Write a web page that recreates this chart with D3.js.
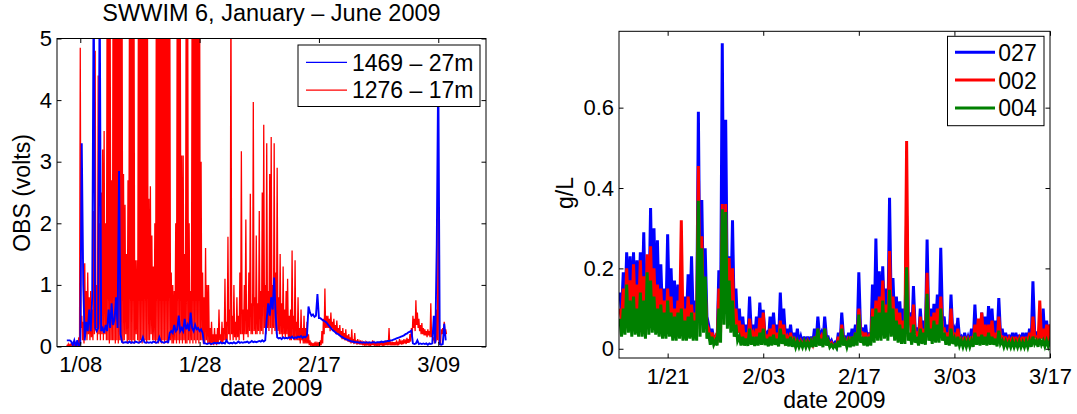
<!DOCTYPE html>
<html>
<head>
<meta charset="utf-8">
<script src="https://cdn.jsdelivr.net/npm/d3@7"></script>
<style>
  body { margin: 0; background: #fff; }
  svg { display: block; font-family: "Liberation Sans", Arial, Helvetica, sans-serif; }
</style>
</head>
<body>
<svg id="chart" width="1077" height="414"></svg>
<script>
// ---------- Left panel: OBS voltage, SWWIM 6 (6-hourly windows) ----------
const obsStart = "2009-01-05 18:00";
const obsStepHours = 6;

// sensor 1276, 17 m (red): max / min reading in each 6-hour window
const obs1276Hi = [
  0.03, 0.04, 0.03, 0.06, 0.04, 0.03, 0.05, 0.04, 0.15, 4.85,
  0.5, 0.4, 1.35, 0.9, 1.2, 0.8, 0.9, 0.6, 2.2, 4.8,
  1.0, 4.4, 2.0, 2.5, 3.2, 3.5, 2.0, 6, 6, 6,
  2.7, 6, 6, 6, 6, 6, 6, 6, 2.8, 2.3,
  1.5, 2.7, 6, 6, 6, 6, 1.4, 1.4, 6, 6,
  6, 6, 6, 6, 6, 2.4, 2.6, 1.8, 1.3, 2.0,
  6, 6, 6, 6, 6, 6, 6, 6, 6, 6,
  1.2, 1.0, 0.9, 2.0, 6, 6, 6, 3.1, 3.1, 1.5,
  6, 6, 2.0, 0.9, 6, 6, 6, 6, 6, 6,
  3.0, 1.2, 0.8, 1.6, 1.0, 1.0, 0.3, 0.4, 0.2, 0.3,
  0.2, 0.3, 0.6, 0.2, 0.4, 0.3, 1.1, 0.4, 1.78, 0.6,
  6, 0.5, 1.0, 0.4, 0.8, 0.5, 1.2, 3.17, 0.6, 1.0,
  2.06, 0.6, 1.2, 2.48, 0.7, 3.97, 0.8, 1.8, 0.7, 2.2,
  0.9, 2.5, 3.6, 1.0, 3.3, 0.9, 2.8, 3.4, 1.0, 3.3,
  1.2, 2.9, 0.8, 1.5, 0.7, 1.3, 0.6, 0.9, 1.1, 0.5,
  0.6, 1.56, 0.5, 1.4, 0.4, 0.8, 0.3, 0.6, 0.3, 0.5,
  0.3, 0.4, 0.2, 0.1, 0.05, 0.06, 0.05, 0.08, 0.05, 0.07,
  0.1, 0.25, 0.45, 0.94, 0.5, 0.5, 0.45, 0.55, 0.4, 0.45,
  0.35, 0.42, 0.3, 0.35, 0.25, 0.3, 0.22, 0.28, 0.18, 0.2,
  0.15, 0.28, 0.12, 0.22, 0.1, 0.12, 0.08, 0.1, 0.07, 0.08,
  0.07, 0.06, 0.08, 0.05, 0.07, 0.1, 0.06, 0.07, 0.05, 0.07,
  0.06, 0.08, 0.05, 0.07, 0.1, 0.07, 0.3, 0.06, 0.08, 0.07,
  0.07, 0.1, 0.06, 0.12, 0.08, 0.1, 0.12, 0.09, 0.14, 0.12,
  0.2, 0.3, 0.5, 0.45, 0.75, 0.55, 0.45, 0.35, 0.38, 0.3,
  0.28, 0.25, 0.28, 0.25, 0.7, 0.25, 0.15, 0.2, 0.6, 3.0,
  0.1, 0.28, 0.3, 0.4, 0.28
];
const obs1276Lo = [
  0.0, 0.01, 0.0, 0.02, 0.01, 0.0, 0.01, 0.01, 0.02, 0.3,
  0.1, 0.05, 0.2, 0.1, 0.2, 0.1, 0.15, 0.1, 0.2, 0.3,
  0.1, 0.2, 0.1, 0.2, 0.1, 0.2, 0.1, 0.1, 0.05, 0.1,
  0.1, 0.1, 0.05, 0.1, 0.05, 0.1, 0.1, 0.05, 0.1, 0.2,
  0.05, 0.1, 0.1, 0.05, 0.1, 0.05, 0.2, 0.1, 0.05, 0.1,
  0.05, 0.1, 0.1, 0.05, 0.1, 0.1, 0.2, 0.1, 0.1, 0.05,
  0.1, 0.05, 0.1, 0.05, 0.1, 0.05, 0.1, 0.05, 0.1, 0.1,
  0.05, 0.05, 0.1, 0.05, 0.1, 0.05, 0.1, 0.05, 0.1, 0.05,
  0.05, 0.1, 0.05, 0.1, 0.05, 0.1, 0.05, 0.1, 0.05, 0.1,
  0.1, 0.05, 0.05, 0.1, 0.05, 0.05, 0.02, 0.05, 0.02, 0.05,
  0.02, 0.05, 0.1, 0.05, 0.05, 0.1, 0.1, 0.1, 0.2, 0.1,
  0.2, 0.1, 0.15, 0.1, 0.15, 0.1, 0.2, 0.2, 0.1, 0.2,
  0.2, 0.15, 0.25, 0.2, 0.2, 0.25, 0.2, 0.2, 0.25, 0.2,
  0.25, 0.2, 0.3, 0.2, 0.3, 0.25, 0.3, 0.2, 0.3, 0.25,
  0.2, 0.25, 0.2, 0.2, 0.15, 0.2, 0.15, 0.2, 0.15, 0.1,
  0.1, 0.15, 0.1, 0.1, 0.1, 0.1, 0.05, 0.1, 0.05, 0.05,
  0.05, 0.05, 0.02, 0.02, 0.01, 0.01, 0.01, 0.01, 0.01, 0.01,
  0.02, 0.05, 0.2, 0.3, 0.3, 0.3, 0.25, 0.3, 0.25, 0.25,
  0.2, 0.22, 0.18, 0.15, 0.12, 0.12, 0.1, 0.1, 0.08, 0.07,
  0.05, 0.06, 0.04, 0.05, 0.03, 0.04, 0.03, 0.03, 0.02, 0.03,
  0.02, 0.02, 0.02, 0.01, 0.02, 0.02, 0.01, 0.02, 0.01, 0.02,
  0.02, 0.02, 0.01, 0.02, 0.02, 0.02, 0.02, 0.02, 0.02, 0.02,
  0.02, 0.03, 0.02, 0.04, 0.03, 0.04, 0.05, 0.04, 0.06, 0.06,
  0.08, 0.15, 0.3, 0.25, 0.35, 0.3, 0.25, 0.2, 0.2, 0.18,
  0.18, 0.15, 0.18, 0.15, 0.15, 0.1, 0.05, 0.08, 0.1, 0.05,
  0.02, 0.2, 0.2, 0.22, 0.2
];

// sensor 1469, 27 m (blue)
const obs1469 = [
  0.1, 0.1, 0.1, 0.08, 0.02, 0.1, 0.0, 0.1, 0.0, 0.05,
  3.3, 1.0, 0.1, 0.4, 0.25, 0.6, 0.25, 0.8, 6, 0.3,
  0.25, 0.3, 6, 0.25, 0.3, 0.22, 0.35, 0.25, 0.6, 0.3,
  0.7, 0.35, 0.45, 0.8, 0.3, 2.85, 0.2, 0.07, 0.06, 0.07,
  0.07, 0.06, 0.08, 0.06, 0.07, 0.06, 0.08, 0.07, 0.06, 0.07,
  0.08, 0.15, 0.07, 0.06, 0.07, 0.06, 0.07, 0.06, 0.08, 0.07,
  0.06, 0.07, 0.15, 0.08, 0.07, 0.06, 0.07, 0.08, 0.07, 0.22,
  0.25, 0.22, 0.35, 0.25, 0.28, 0.5, 0.25, 0.3, 0.25, 0.45,
  0.28, 0.35, 0.25, 0.55, 0.3, 0.25, 0.35, 0.28, 0.3, 0.25,
  0.28, 0.22, 0.05, 0.05, 0.04, 0.05, 0.05, 0.04, 0.05, 0.06,
  0.05, 0.06, 0.05, 0.07, 0.05, 0.06, 0.05, 0.1, 0.06, 0.05,
  0.06, 0.05, 0.07, 0.05, 0.06, 0.08, 0.06, 0.07, 0.06, 0.07,
  0.07, 0.08, 0.06, 0.07, 0.09, 0.07, 0.08, 0.07, 0.08, 0.09,
  0.08, 0.1, 0.08, 0.1, 0.45, 0.7, 0.5, 0.8, 0.6, 1.12,
  0.5, 0.15, 0.13, 0.14, 0.12, 0.15, 0.13, 0.14, 0.13, 0.15,
  0.14, 0.16, 0.13, 0.15, 0.14, 0.16, 0.15, 0.17, 0.14, 0.16,
  0.15, 0.18, 0.65, 0.55, 0.5, 0.52, 0.48, 0.5, 0.85, 0.46,
  0.46, 0.44, 0.42, 0.41, 0.39, 0.36, 0.33, 0.3, 0.27, 0.25,
  0.23, 0.21, 0.2, 0.18, 0.16, 0.15, 0.13, 0.12, 0.11, 0.1,
  0.09, 0.08, 0.08, 0.07, 0.07, 0.07, 0.06, 0.07, 0.06, 0.07,
  0.06, 0.07, 0.06, 0.07, 0.06, 0.07, 0.07, 0.06, 0.07, 0.07,
  0.07, 0.08, 0.07, 0.08, 0.08, 0.09, 0.09, 0.1, 0.1, 0.11,
  0.12, 0.13, 0.14, 0.15, 0.16, 0.17, 0.18, 0.2, 0.21, 0.23,
  0.24, 0.26, 0.05, 0.04, 0.05, 0.1, 0.04, 0.05, 0.04, 0.05,
  0.04, 0.05, 0.03, 0.05, 0.04, 0.05, 0.5, 0.05, 1.66, 4.6,
  0.04, 0.03, 0.04, 0.37, 0.1
];

const obsTickDates = ["2009-01-08 00:00", "2009-01-28 00:00", "2009-02-17 00:00", "2009-03-09 00:00"];
const obsTickLabels = ["1/08", "1/28", "2/17", "3/09"];
const obsYTicks = [0, 1, 2, 3, 4, 5];
const obsLegend = ["1469 \u2013 27m", "1276 \u2013 17m"];

// ---------- Right panel: sediment concentration (half-day high / low readings) ----------
const sedStart = "2009-01-13 12:00";
const sedStepHours = 12;

const sed027Hi = [
  0.14, 0.19, 0.24, 0.23, 0.24, 0.22, 0.24, 0.29, 0.2, 0.35,
  0.3, 0.27, 0.21, 0.15, 0.285, 0.2, 0.17, 0.16, 0.12, 0.13,
  0.185, 0.23, 0.12, 0.59, 0.37, 0.25, 0.06, 0.05, 0.03, 0.195,
  0.76, 0.57, 0.23, 0.32, 0.15, 0.1, 0.08, 0.06, 0.13, 0.06,
  0.08, 0.115, 0.097, 0.04, 0.08, 0.09, 0.06, 0.14, 0.1, 0.05,
  0.06, 0.04, 0.05, 0.03, 0.03, 0.03, 0.03, 0.05, 0.08, 0.04,
  0.08, 0.03, 0.02, 0.015, 0.04, 0.09, 0.03, 0.04, 0.05, 0.06,
  0.19, 0.05, 0.06, 0.04, 0.16, 0.274, 0.193, 0.205, 0.15, 0.376,
  0.176, 0.13, 0.118, 0.1, 0.33, 0.09, 0.156, 0.05, 0.1, 0.07,
  0.272, 0.1, 0.112, 0.135, 0.251, 0.08, 0.06, 0.135, 0.05, 0.077,
  0.03, 0.04, 0.03, 0.05, 0.11, 0.07, 0.09, 0.08, 0.106, 0.1,
  0.07, 0.126, 0.05, 0.04, 0.035, 0.04, 0.04, 0.035, 0.04, 0.04,
  0.05, 0.168, 0.04, 0.06, 0.1, 0.07, 0.06
];
const sed027Lo = [
  0.09, 0.1, 0.12, 0.1, 0.11, 0.1, 0.1, 0.09, 0.1, 0.12,
  0.1, 0.09, 0.08, 0.08, 0.09, 0.07, 0.07, 0.08, 0.07, 0.07,
  0.08, 0.07, 0.06, 0.1, 0.12, 0.08, 0.03, 0.025, 0.02, 0.06,
  0.15, 0.12, 0.1, 0.08, 0.05, 0.03, 0.03, 0.025, 0.04, 0.025,
  0.03, 0.04, 0.035, 0.02, 0.03, 0.035, 0.02, 0.04, 0.03, 0.02,
  0.02, 0.015, 0.015, 0.012, 0.012, 0.012, 0.012, 0.015, 0.03, 0.015,
  0.03, 0.012, 0.008, 0.006, 0.012, 0.03, 0.015, 0.015, 0.02, 0.025,
  0.05, 0.025, 0.02, 0.025, 0.05, 0.07, 0.06, 0.08, 0.06, 0.09,
  0.06, 0.05, 0.04, 0.04, 0.08, 0.03, 0.05, 0.025, 0.04, 0.03,
  0.06, 0.04, 0.05, 0.05, 0.07, 0.03, 0.025, 0.04, 0.02, 0.025,
  0.015, 0.015, 0.015, 0.015, 0.03, 0.025, 0.03, 0.025, 0.03, 0.03,
  0.02, 0.035, 0.015, 0.015, 0.012, 0.012, 0.012, 0.012, 0.012, 0.012,
  0.015, 0.04, 0.015, 0.03, 0.02, 0.02, 0.02
];

const sed002Hi = [
  0.1, 0.15, 0.2, 0.17, 0.21, 0.16, 0.22, 0.18, 0.235, 0.255,
  0.2, 0.16, 0.15, 0.12, 0.15, 0.13, 0.1, 0.12, 0.32, 0.1,
  0.13, 0.11, 0.09, 0.455, 0.28, 0.15, 0.05, 0.04, 0.03, 0.15,
  0.36, 0.36, 0.226, 0.2, 0.1, 0.07, 0.06, 0.04, 0.075, 0.04,
  0.05, 0.077, 0.09, 0.03, 0.05, 0.06, 0.04, 0.07, 0.06, 0.03,
  0.04, 0.03, 0.02, 0.02, 0.02, 0.02, 0.02, 0.03, 0.05, 0.03,
  0.05, 0.02, 0.015, 0.01, 0.03, 0.06, 0.02, 0.03, 0.03, 0.04,
  0.1, 0.04, 0.04, 0.03, 0.1, 0.12, 0.13, 0.17, 0.11, 0.243,
  0.13, 0.1, 0.09, 0.07, 0.517, 0.08, 0.11, 0.04, 0.08, 0.05,
  0.189, 0.08, 0.09, 0.1, 0.13, 0.05, 0.04, 0.1, 0.035, 0.05,
  0.025, 0.03, 0.025, 0.03, 0.06, 0.075, 0.09, 0.06, 0.06, 0.07,
  0.04, 0.08, 0.03, 0.03, 0.025, 0.03, 0.03, 0.025, 0.03, 0.03,
  0.04, 0.08, 0.03, 0.12, 0.05, 0.06, 0.06
];
const sed002Lo = [
  0.07, 0.08, 0.09, 0.08, 0.09, 0.08, 0.08, 0.07, 0.08, 0.09,
  0.08, 0.07, 0.06, 0.06, 0.07, 0.05, 0.05, 0.06, 0.05, 0.05,
  0.06, 0.05, 0.05, 0.08, 0.09, 0.06, 0.02, 0.02, 0.015, 0.04,
  0.12, 0.1, 0.08, 0.06, 0.04, 0.02, 0.02, 0.02, 0.03, 0.02,
  0.02, 0.03, 0.025, 0.015, 0.02, 0.025, 0.015, 0.03, 0.02, 0.015,
  0.015, 0.01, 0.01, 0.01, 0.01, 0.01, 0.01, 0.012, 0.02, 0.01,
  0.02, 0.01, 0.006, 0.005, 0.01, 0.02, 0.01, 0.01, 0.015, 0.02,
  0.04, 0.02, 0.015, 0.02, 0.04, 0.05, 0.05, 0.06, 0.05, 0.07,
  0.05, 0.04, 0.03, 0.03, 0.06, 0.025, 0.04, 0.02, 0.03, 0.025,
  0.05, 0.03, 0.04, 0.04, 0.05, 0.025, 0.02, 0.03, 0.015, 0.02,
  0.012, 0.012, 0.012, 0.012, 0.025, 0.02, 0.025, 0.02, 0.025, 0.025,
  0.015, 0.03, 0.012, 0.012, 0.01, 0.01, 0.01, 0.01, 0.01, 0.01,
  0.012, 0.03, 0.012, 0.025, 0.015, 0.015, 0.015
];

const sed004Hi = [
  0.075, 0.1, 0.16, 0.12, 0.13, 0.1, 0.14, 0.12, 0.19, 0.17,
  0.13, 0.1, 0.11, 0.09, 0.12, 0.09, 0.08, 0.09, 0.1, 0.07,
  0.08, 0.09, 0.07, 0.368, 0.25, 0.18, 0.04, 0.03, 0.02, 0.1,
  0.347, 0.34, 0.17, 0.12, 0.06, 0.03, 0.03, 0.025, 0.05, 0.03,
  0.03, 0.04, 0.05, 0.025, 0.03, 0.035, 0.025, 0.05, 0.035, 0.025,
  0.03, 0.02, 0.018, 0.015, 0.018, 0.016, 0.018, 0.03, 0.05, 0.025,
  0.05, 0.02, 0.01, 0.01, 0.02, 0.05, 0.02, 0.02, 0.03, 0.04,
  0.085, 0.03, 0.03, 0.03, 0.08, 0.1, 0.09, 0.12, 0.09, 0.147,
  0.1, 0.07, 0.06, 0.05, 0.203, 0.04, 0.06, 0.03, 0.05, 0.04,
  0.137, 0.05, 0.07, 0.06, 0.1, 0.04, 0.03, 0.05, 0.025, 0.03,
  0.02, 0.02, 0.02, 0.02, 0.04, 0.03, 0.035, 0.03, 0.04, 0.03,
  0.025, 0.045, 0.02, 0.018, 0.016, 0.018, 0.016, 0.018, 0.016, 0.018,
  0.02, 0.03, 0.02, 0.025, 0.02, 0.02, 0.02
];
const sed004Lo = [
  0.03, 0.035, 0.04, 0.03, 0.035, 0.03, 0.03, 0.025, 0.035, 0.04,
  0.035, 0.03, 0.025, 0.025, 0.03, 0.02, 0.02, 0.025, 0.02, 0.02,
  0.025, 0.02, 0.02, 0.03, 0.04, 0.025, 0.01, 0.01, 0.008, 0.015,
  0.06, 0.05, 0.04, 0.03, 0.02, 0.008, 0.008, 0.007, 0.01, 0.007,
  0.008, 0.01, 0.009, 0.006, 0.008, 0.01, 0.006, 0.012, 0.008, 0.006,
  0.005, 0.004, 0.004, 0.004, 0.004, 0.004, 0.004, 0.005, 0.008, 0.004,
  0.008, 0.004, 0.003, 0.002, 0.004, 0.008, 0.004, 0.004, 0.006, 0.008,
  0.015, 0.008, 0.006, 0.008, 0.015, 0.02, 0.02, 0.025, 0.02, 0.03,
  0.02, 0.015, 0.012, 0.012, 0.02, 0.01, 0.015, 0.008, 0.012, 0.01,
  0.02, 0.012, 0.015, 0.015, 0.02, 0.01, 0.008, 0.012, 0.006, 0.008,
  0.005, 0.005, 0.005, 0.005, 0.01, 0.008, 0.01, 0.008, 0.01, 0.01,
  0.006, 0.012, 0.005, 0.005, 0.004, 0.004, 0.004, 0.004, 0.004, 0.004,
  0.005, 0.012, 0.005, 0.01, 0.006, 0.006, 0.006
];

const sedTickDates = ["2009-01-20 12:00", "2009-02-03 12:00", "2009-02-17 12:00", "2009-03-03 12:00", "2009-03-17 12:00"];
const sedTickLabels = ["1/21", "2/03", "2/17", "3/03", "3/17"];
const sedYTicks = [0, 0.2, 0.4, 0.6];
const sedYLabels = ["0", "0.2", "0.4", "0.6"];
const sedLegend = ["027", "002", "004"];

// ---------- helpers ----------
const parse = d3.timeParse("%Y-%m-%d %H:%M");
const HOUR = 3600e3;
const svg = d3.select("#chart");

function evenSeries(start, stepHours, values) {
  const t0 = parse(start).getTime();
  return values.map((v, i) => ({ t: new Date(t0 + i * stepHours * HOUR), v }));
}
// high reading at the start of each window, low reading half-way through it
function envelopeSeries(start, stepHours, hi, lo) {
  const t0 = parse(start).getTime();
  const out = [];
  hi.forEach((h, i) => {
    out.push({ t: new Date(t0 + i * stepHours * HOUR), v: h });
    out.push({ t: new Date(t0 + (i + 0.5) * stepHours * HOUR), v: lo[i] });
  });
  return out;
}

function boxAxes(g, x, y, xt, xl, yt, yl, fs) {
  const [xa, xb] = x.range();
  const [yb, ya] = y.range();
  const tickLen = 4.5;
  g.append("g").attr("transform", `translate(0,${yb})`)
    .call(d3.axisBottom(x).tickValues(xt).tickFormat((d, i) => xl[i]).tickSizeInner(-tickLen).tickSizeOuter(0).tickPadding(10));
  g.append("g").attr("transform", `translate(0,${ya})`)
    .call(d3.axisTop(x).tickValues(xt).tickFormat("").tickSizeInner(-tickLen).tickSizeOuter(0));
  g.append("g").attr("transform", `translate(${xa},0)`)
    .call(d3.axisLeft(y).tickValues(yt).tickFormat((d, i) => yl[i]).tickSizeInner(-tickLen).tickSizeOuter(0).tickPadding(5));
  g.append("g").attr("transform", `translate(${xb},0)`)
    .call(d3.axisRight(y).tickValues(yt).tickFormat("").tickSizeInner(-tickLen).tickSizeOuter(0));
  g.selectAll(".domain").remove();
  g.selectAll(".tick line").attr("stroke", "#000").attr("stroke-width", 1);
  g.selectAll(".tick text").attr("fill", "#000").attr("font-size", fs + "px").attr("font-family", null);
  g.append("rect").attr("x", xa).attr("y", ya).attr("width", xb - xa).attr("height", yb - ya)
    .attr("fill", "none").attr("stroke", "#000").attr("stroke-width", 1);
}

// ---------- left panel ----------
{
  const x = d3.scaleTime().domain([parse("2009-01-04 02:24"), parse("2009-03-17 00:00")]).range([57, 486]);
  const y = d3.scaleLinear().domain([0, 5]).range([346.5, 38.5]);
  const g = svg.append("g");
  g.append("clipPath").attr("id", "clipL").append("rect")
    .attr("x", 57).attr("y", 38.5).attr("width", 429).attr("height", 308);
  const line = d3.line().x(d => x(d.t)).y(d => y(d.v));
  const plot = g.append("g").attr("clip-path", "url(#clipL)");
  plot.append("path").datum(envelopeSeries(obsStart, obsStepHours, obs1276Hi, obs1276Lo))
    .attr("d", line).attr("fill", "none").attr("stroke", "#ff0000").attr("stroke-width", 1.3);
  plot.append("path").datum(evenSeries(obsStart, obsStepHours, obs1469))
    .attr("d", line).attr("fill", "none").attr("stroke", "#0000ff").attr("stroke-width", 1.9);

  boxAxes(g, x, y, obsTickDates.map(parse), obsTickLabels, obsYTicks, obsYTicks.map(String), 22);

  g.append("text").attr("x", 271.5).attr("y", 20.5).attr("text-anchor", "middle")
    .attr("font-size", "23.5px").text("SWWIM 6, January \u2013 June 2009");
  g.append("text").attr("x", 271.5).attr("y", 396).attr("text-anchor", "middle")
    .attr("font-size", "23px").text("date 2009");
  g.append("text").attr("transform", "translate(30,193) rotate(-90)").attr("text-anchor", "middle")
    .attr("font-size", "23px").text("OBS (volts)");

  const lg = g.append("g");
  lg.append("rect").attr("x", 298).attr("y", 45).attr("width", 182).attr("height", 61.5)
    .attr("fill", "#fff").attr("stroke", "#000").attr("stroke-width", 1);
  const legColors = ["#0000ff", "#ff0000"];
  obsLegend.forEach((name, i) => {
    const yy = 62.3 + i * 27.8;
    lg.append("line").attr("x1", 306).attr("x2", 347).attr("y1", yy).attr("y2", yy)
      .attr("stroke", legColors[i]).attr("stroke-width", 1.2);
    lg.append("text").attr("x", 352).attr("y", yy + 8.3).attr("font-size", "23px").text(name);
  });
}

// ---------- right panel ----------
{
  const x = d3.scaleTime().domain([parse("2009-01-13 09:00"), parse("2009-03-17 12:00")]).range([619, 1050]);
  const y = d3.scaleLinear().domain([-0.023, 0.79]).range([358, 31.3]);
  const g = svg.append("g");
  g.append("clipPath").attr("id", "clipR").append("rect")
    .attr("x", 619).attr("y", 31.3).attr("width", 431).attr("height", 326.7);
  const line = d3.line().x(d => x(d.t)).y(d => y(d.v));
  const plot = g.append("g").attr("clip-path", "url(#clipR)");
  const series = [
    { hi: sed027Hi, lo: sed027Lo, color: "#0000ff" },
    { hi: sed002Hi, lo: sed002Lo, color: "#ff0000" },
    { hi: sed004Hi, lo: sed004Lo, color: "#008000" }
  ];
  series.forEach(s => {
    plot.append("path").datum(envelopeSeries(sedStart, sedStepHours, s.hi, s.lo))
      .attr("d", line).attr("fill", "none").attr("stroke", s.color).attr("stroke-width", 3);
  });

  boxAxes(g, x, y, sedTickDates.map(parse), sedTickLabels, sedYTicks, sedYLabels, 22);

  g.append("text").attr("x", 834.5).attr("y", 408).attr("text-anchor", "middle")
    .attr("font-size", "23px").text("date 2009");
  g.append("text").attr("transform", "translate(573,193) rotate(-90)").attr("text-anchor", "middle")
    .attr("font-size", "23px").text("g/L");

  const lg = g.append("g");
  lg.append("rect").attr("x", 947.5).attr("y", 36.3).attr("width", 96.5).attr("height", 89.4)
    .attr("fill", "#fff").attr("stroke", "#000").attr("stroke-width", 1);
  sedLegend.forEach((name, i) => {
    const yy = 52.3 + i * 27.8;
    lg.append("line").attr("x1", 955).attr("x2", 995).attr("y1", yy).attr("y2", yy)
      .attr("stroke", series[i].color).attr("stroke-width", 3);
    lg.append("text").attr("x", 998.3).attr("y", yy + 8.5).attr("font-size", "23px").text(name);
  });
}
</script>
</body>
</html>
